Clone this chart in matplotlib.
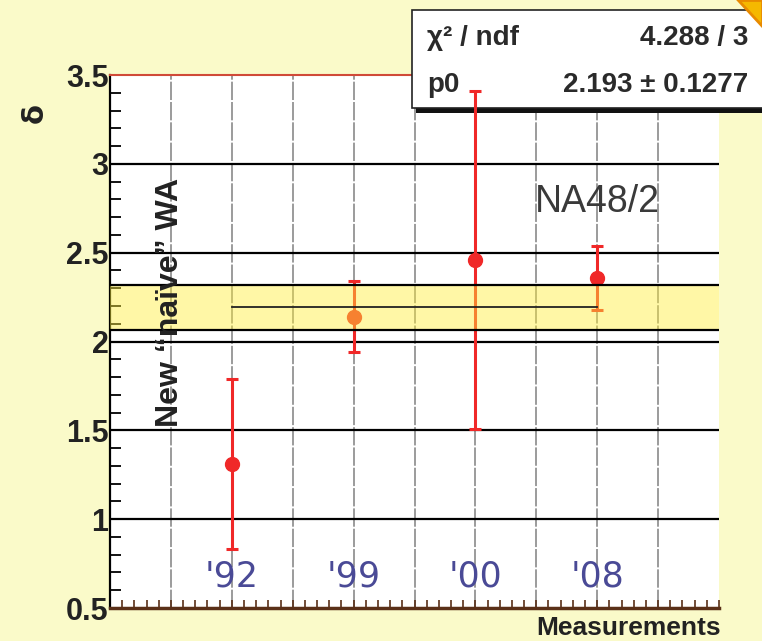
import matplotlib
matplotlib.use("Agg")
import matplotlib.pyplot as plt
from matplotlib.patches import Rectangle, Polygon
from matplotlib.ticker import MultipleLocator, FixedLocator

# ---- data ----
years = ["'92", "'99", "'00", "'08"]
xpos = [2, 4, 6, 8]
delta = [1.31, 2.14, 2.46, 2.36]
delta_err = [0.48, 0.20, 0.95, 0.18]
fit_p0 = 2.193
fit_err = 0.1277
chi2 = 4.288
ndf = 3
ytick_vals = [0.5, 1.0, 1.5, 2.0, 2.5, 3.0, 3.5]
ytick_labels = ["0.5", "1", "1.5", "2", "2.5", "3", "3.5"]

W, H = 762, 641
BG = "#FAFAC9"
plt.rcParams['font.family'] = ['Liberation Sans', 'DejaVu Sans']

fig = plt.figure(figsize=(W / 100, H / 100), dpi=100, facecolor=BG)
ax = fig.add_axes([110 / W, (H - 608) / H, (719 - 110) / W, (608 - 75) / H])
ax.set_facecolor("white")
ax.set_xlim(0, 10)
ax.set_ylim(0.5, 3.5)

# vertical grid
for gx in range(1, 10):
    ax.axvline(gx, color="#808080", lw=1.1, ls=(0, (12, 1.3)), zorder=1)
# horizontal grid
for gy in [1.0, 1.5, 2.0, 2.5, 3.0]:
    ax.axhline(gy, color="black", lw=1.6, zorder=2)

# data points
ax.errorbar(xpos, delta, yerr=delta_err, fmt="o", color="#F02828", ms=10,
            elinewidth=2.2, capsize=4.5, capthick=2.2, zorder=3)

# WA band (drawn over points, semi-transparent)
ax.axhspan(fit_p0 - fit_err, fit_p0 + fit_err, color="#FFEF3A", alpha=0.45,
           lw=0, zorder=4)
ax.axhline(fit_p0 - fit_err, color="black", lw=1.6, zorder=5)
ax.axhline(fit_p0 + fit_err, color="black", lw=1.6, zorder=5)
ax.plot([xpos[0], xpos[-1]], [fit_p0, fit_p0], color="#222222", lw=1.3, zorder=5)

# annotations
for x, lab in zip(xpos, years):
    ax.text(x, 0.675, lab, ha="center", va="center", fontsize=25,
            color="#4a4a96", family="DejaVu Sans", zorder=6)
ax.text(8, 2.785, "NA48/2", ha="center", va="center", fontsize=27,
        color="#3a3a3a", zorder=6)
ax.text(0.99, 2.22, "New \u201cna\u00efve\u201d WA", rotation=90, ha="center",
        va="center", fontsize=23, fontweight="bold", color="#222222", zorder=6)

# spines
ax.spines["right"].set_visible(False)
ax.spines["left"].set_color("black")
ax.spines["left"].set_linewidth(1.6)
ax.spines["top"].set_color("#D04A38")
ax.spines["top"].set_linewidth(1.5)
ax.spines["bottom"].set_color("#5a3018")
ax.spines["bottom"].set_linewidth(2.5)

# ticks
ax.yaxis.set_major_locator(FixedLocator(ytick_vals))
ax.set_yticklabels(ytick_labels)
ax.yaxis.set_minor_locator(MultipleLocator(0.1))
ax.xaxis.set_major_locator(MultipleLocator(1))
ax.xaxis.set_minor_locator(MultipleLocator(0.2))
ax.tick_params(axis="y", which="both", direction="in", length=8, width=1.3,
               color="black", right=False, labelsize=22, pad=1)
ax.tick_params(axis="x", which="both", direction="in", length=6, width=1.2,
               color="#5a3018", top=False, labelbottom=False)
for t in ax.get_yticklabels():
    t.set_fontweight("bold")
    t.set_color("#222222")

# axis titles
fig.text(35 / W, 1 - 113 / H, "\u03b4", rotation=90, ha="center", va="center",
         fontsize=21, fontweight="bold", color="#222222", family="DejaVu Sans")
fig.text(721 / W, 1 - 628 / H, "Measurements", ha="right", va="center",
         fontsize=19, fontweight="bold", color="#222222")

# stats box (fit result) - drawn inside the axes layer, below the data
def fx(px):
    return px / W

def fy(py):
    return 1 - py / H

shadow = Rectangle((fx(416), fy(113)), fx(400), fy(14) - fy(113),
                   transform=fig.transFigure, facecolor="#111111",
                   edgecolor="none", zorder=2.6, clip_on=False)
box = Rectangle((fx(412), fy(108)), fx(400), fy(10) - fy(108),
                transform=fig.transFigure, facecolor="white",
                edgecolor="#222222", lw=1.2, zorder=2.7, clip_on=False)
ax.add_patch(shadow)
ax.add_patch(box)
stat_kw = dict(fontsize=20, fontweight="bold", color="#2a2a2a", zorder=6,
               transform=fig.transFigure, clip_on=False, va="center")
ax.text(fx(427), fy(38), "\u03c7\u00b2 / ndf", ha="left", **stat_kw)
ax.text(fx(748), fy(38), f"{chi2:.3f} / {ndf}", ha="right", **stat_kw)
ax.text(fx(427), fy(85), "p0", ha="left", **stat_kw)
ax.text(fx(748), fy(85), f"{fit_p0:.3f} \u00b1 {fit_err:.4f}", ha="right",
        **stat_kw)

# corner decoration
corner = Polygon([(fx(738), fy(0)), (fx(762), fy(0)), (fx(762), fy(26))],
                 closed=True, transform=fig.transFigure, facecolor="#F5B800",
                 edgecolor="#E88A00", lw=2, zorder=13)
fig.patches.append(corner)

fig.savefig("out.png", dpi=100, facecolor=BG)
